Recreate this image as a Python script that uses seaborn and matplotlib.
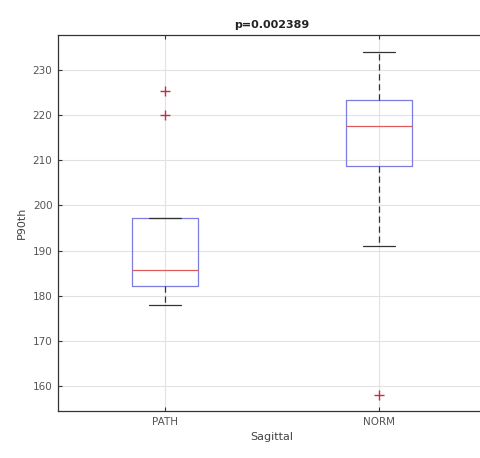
import matplotlib
matplotlib.use("Agg")
import matplotlib.pyplot as plt
import seaborn as sns

# Box summary statistics for P90th per group
groups = ["PATH", "NORM"]
whisker_low = [178.0, 190.9]
q1 = [182.2, 208.7]
median = [185.7, 217.6]
q3 = [197.3, 223.4]
whisker_high = [197.3, 234.0]
outliers = [[225.2, 220.0], [158.0]]
yticks = [160, 170, 180, 190, 200, 210, 220, 230]
title = "p=0.002389"

sns.set_style("whitegrid")
plt.rcParams["font.family"] = ["DejaVu Sans"]

stats = []
for i, g in enumerate(groups):
    stats.append(dict(label=g, whislo=whisker_low[i], q1=q1[i], med=median[i],
                      q3=q3[i], whishi=whisker_high[i], fliers=outliers[i]))

fig = plt.figure(figsize=(4.81, 4.58), dpi=100)
ax = fig.add_axes([58 / 481, 47 / 458, 428 / 481, 376 / 458])

ax.bxp(stats, positions=[1, 2], widths=0.31, showfliers=True,
       boxprops=dict(color="#7d7de0", linewidth=0.9),
       medianprops=dict(color="#e05a5a", linewidth=0.9),
       whiskerprops=dict(color="#333333", linewidth=0.9, linestyle=(0, (5, 3))),
       capprops=dict(color="#333333", linewidth=0.9),
       capwidths=0.15,
       flierprops=dict(marker="+", markeredgecolor="#c0304a", markersize=7,
                       markeredgewidth=1.0, linestyle="none"))

ax.set_xlim(0.5, 2.5)
ax.set_ylim(154.5, 237.7)
ax.set_yticks(yticks)
ax.set_xticks([1, 2])
ax.set_xticklabels(groups)

ax.grid(True, color="#e2e2e2", linewidth=0.8)
ax.set_axisbelow(True)
for s in ax.spines.values():
    s.set_color("#333333")
    s.set_linewidth(0.9)
    s.set_visible(True)

ax.tick_params(axis="both", which="both", direction="in", length=3,
               top=True, right=True, left=True, bottom=True,
               color="#333333", labelsize=7.5, labelcolor="#555555", pad=4)

ax.set_title(title, fontsize=8, fontweight="bold", color="#222222", pad=5)
ax.set_ylabel("P90th", fontsize=8, color="#444444", labelpad=4)
ax.set_xlabel("Sagittal", fontsize=8, color="#444444", labelpad=4)

fig.savefig("out.png", dpi=100)
